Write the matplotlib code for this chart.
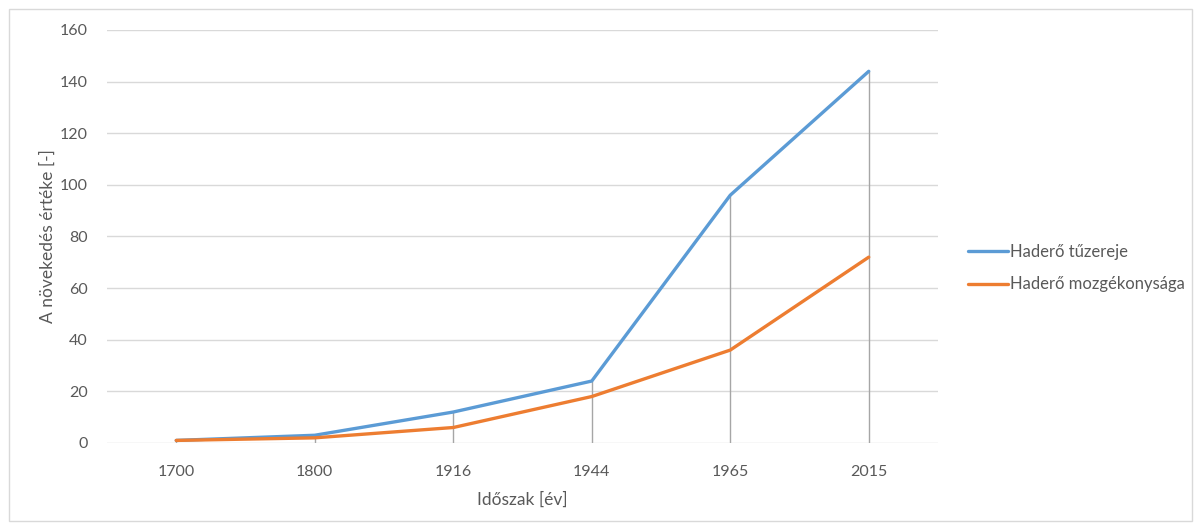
import matplotlib
matplotlib.use("Agg")
import matplotlib.pyplot as plt
from matplotlib.patches import Rectangle

categories = ["1700", "1800", "1916", "1944", "1965", "2015"]
tuzereje = [1, 3, 12, 24, 96, 144]
mozgekonysag = [1, 2, 6, 18, 36, 72]
series_names = ["Haderő tűzereje", "Haderő mozgékonysága"]
yticks = [0, 20, 40, 60, 80, 100, 120, 140, 160]

plt.rcParams['font.family'] = ['Lato', 'DejaVu Sans']
txt = '#595959'

fig = plt.figure(figsize=(11.94, 5.24), dpi=100)
ax = fig.add_axes([107/1194, 1-443/524, (938-107)/1194, (443-30)/524])

x = list(range(len(categories)))
# drop lines
tops = [max(a, b) for a, b in zip(tuzereje, mozgekonysag)]
ax.vlines(x, 0, tops, color='#a6a6a6', lw=1.0, zorder=2)

ax.plot(x, tuzereje, color='#5B9BD5', lw=2.4, label=series_names[0], zorder=3,
        solid_joinstyle='round', solid_capstyle='round')
ax.plot(x, mozgekonysag, color='#ED7D31', lw=2.4, label=series_names[1], zorder=3,
        solid_joinstyle='round', solid_capstyle='round')

ax.set_xlim(-0.5, len(categories) - 0.5)
ax.set_ylim(0, 160)
ax.set_yticks(yticks)
ax.set_xticks(x)
ax.set_xticklabels(categories)
ax.grid(axis='y', color='#d9d9d9', lw=1.0, zorder=1)
ax.set_axisbelow(True)
for s in ax.spines.values():
    s.set_visible(False)
ax.tick_params(length=0, colors=txt, labelsize=11.5)
ax.tick_params(axis='x', pad=16)
ax.tick_params(axis='y', pad=14)

ax.set_xlabel("Időszak [év]", color=txt, fontsize=12.5, labelpad=9)
ax.set_ylabel("A növekedés értéke [-]", color=txt, fontsize=12.5, labelpad=3)

leg = fig.legend(loc='center left', bbox_to_anchor=(968/1194, 1-268/524),
                 frameon=False, fontsize=12, handlelength=2.4, handletextpad=0.15,
                 borderpad=0, borderaxespad=0,
                 labelspacing=1.0, labelcolor=txt)

fig.add_artist(Rectangle((9/1194, 3/524), 1183/1194, 512/524, transform=fig.transFigure,
                         fill=False, edgecolor='#d9d9d9', lw=1.0))

fig.savefig("out.png", dpi=100)
